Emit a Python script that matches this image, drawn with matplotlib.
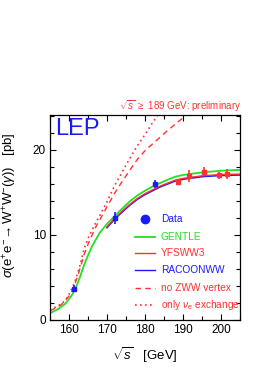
import matplotlib
matplotlib.use("Agg")
import matplotlib.pyplot as plt
from matplotlib.ticker import MultipleLocator

plt.rcParams['font.family'] = ['Liberation Sans', 'DejaVu Sans']
plt.rcParams['mathtext.fontset'] = 'custom'
plt.rcParams['mathtext.rm'] = 'Liberation Sans'
plt.rcParams['mathtext.it'] = 'Liberation Sans:italic'
plt.rcParams['mathtext.sf'] = 'Liberation Sans'

RED = '#ff3030'
GREEN = '#22e022'
BLUE = '#1a1aff'

# Measurements
data_e = [161.3, 172.1, 182.7]
data_s = [3.7, 12.0, 15.95]
data_err = [0.45, 0.75, 0.45]
prel_e = [188.6, 191.6, 195.5, 199.5, 201.6]
prel_s = [16.2, 16.9, 17.45, 17.0, 17.2]
prel_err = [0.3, 0.7, 0.5, 0.45, 0.6]

# GENTLE
gentle_e = [155, 157, 159, 160, 161, 162, 163, 164, 165, 166, 168, 170, 172, 174,
            176, 178, 180, 182, 184, 186, 188, 190, 195, 200, 205]
gentle_s = [0.8, 1.25, 1.9, 2.45, 3.1, 4.0, 5.2, 6.5, 7.6, 8.6, 10.2, 11.3, 12.2, 13.1,
            13.95, 14.65, 15.2, 15.7, 16.1, 16.5, 16.85, 17.05, 17.35, 17.55, 17.65]
# YFSWW3
yfs_e = [170, 172, 174, 176, 178, 180, 182, 184, 186, 188, 190, 195, 200, 205]
yfs_s = [10.95, 11.95, 12.8, 13.6, 14.3, 14.85, 15.3, 15.75, 16.1, 16.45, 16.65, 16.95, 17.1, 17.15]
# RACOONWW
rac_e = [170, 172, 174, 176, 178, 180, 182, 184, 186, 188, 190, 195, 200, 205]
rac_s = [10.85, 11.85, 12.7, 13.5, 14.2, 14.75, 15.2, 15.65, 16.0, 16.35, 16.55, 16.85, 17.0, 17.05]
# no ZWW vertex
nozww_e = [155, 156, 158, 160, 161, 162, 163, 164, 165, 166, 167, 168, 170, 172, 174,
           176, 178, 180, 183, 186, 189, 192]
nozww_s = [1.1, 1.3, 1.8, 2.8, 3.6, 4.8, 6.2, 7.7, 8.9, 9.9, 10.9, 11.7, 13.3, 14.9, 16.3,
           17.6, 18.9, 19.9, 21.1, 22.3, 23.4, 24.5]
# only nu_e exchange
nue_e = [155, 156, 158, 159, 160, 161, 162, 163, 164, 165, 166, 167, 168, 170, 172,
         174, 176, 178, 180, 182, 184]
nue_s = [1.15, 1.4, 1.9, 2.3, 3.0, 3.9, 5.1, 6.6, 8.4, 9.6, 10.5, 11.4, 12.2, 13.9, 15.8,
         17.4, 19.0, 20.5, 21.8, 23.2, 24.5]

fig = plt.figure(figsize=(2.73, 3.82), dpi=100)
ax = fig.add_axes([50/273, 1-320/382, 190/273, 205/382])

ax.plot(nue_e, nue_s, color=RED, lw=1.2, ls=(0, (1, 2)))
ax.plot(nozww_e, nozww_s, color=RED, lw=1.0, ls=(0, (4, 3)))
ax.plot(gentle_e, gentle_s, color=GREEN, lw=1.3)
ax.plot(rac_e, rac_s, color=BLUE, lw=1.2)
ax.plot(yfs_e, yfs_s, color=RED, lw=1.0)

ax.errorbar(data_e, data_s, yerr=data_err, fmt='s', ms=2.5, color=BLUE, elinewidth=1.2, capsize=0)
ax.errorbar(prel_e, prel_s, yerr=prel_err, fmt='s', ms=2.5, color=RED, elinewidth=1.2, capsize=0)

ax.set_xlim(155, 205)
ax.set_ylim(0, 24.1)
ax.xaxis.set_major_locator(MultipleLocator(10))
ax.xaxis.set_minor_locator(MultipleLocator(5))
ax.yaxis.set_major_locator(MultipleLocator(10))
ax.yaxis.set_minor_locator(MultipleLocator(2))
ax.tick_params(which='both', direction='in', top=True, right=True, labelsize=8.5, width=0.8)
ax.tick_params(which='major', length=4.5, pad=3)
ax.tick_params(which='minor', length=3)
for sp in ax.spines.values():
    sp.set_linewidth(0.9)

ax.text(0.025, 0.985, 'LEP', transform=ax.transAxes, color=BLUE, fontsize=17,
        ha='left', va='top')

# legend drawn manually
rows = [0.493, 0.405, 0.327, 0.244, 0.156, 0.073]
x0, x1, xt = 0.447, 0.553, 0.584
ax.plot([0.5], [rows[0]], 'o', color=BLUE, ms=6, transform=ax.transAxes)
ax.text(xt, rows[0], 'Data', color=BLUE, fontsize=7.3, va='center', transform=ax.transAxes)
specs = [('GENTLE', GREEN, '-', 1.3), ('YFSWW3', RED, '-', 1.0), ('RACOONWW', BLUE, '-', 1.0),
         ('no ZWW vertex', RED, (0, (4, 3)), 1.0), (r'only $\nu_{\rm e}$ exchange', RED, (0, (1, 2)), 1.2)]
for r, (lab, c, ls, lw) in zip(rows[1:], specs):
    ax.plot([x0, x1], [r, r], color=c, ls=ls, lw=lw, transform=ax.transAxes)
    ax.text(xt, r, lab, color=c, fontsize=7.3, va='center', transform=ax.transAxes)

fig.text(241/273, 1-110.5/382, r'$\sqrt{s}$ $\geq$ 189 GeV: preliminary', color=RED,
         fontsize=7.0, ha='right', va='baseline')
fig.text(145/273, 1-355/382, r'$\sqrt{s}$   [GeV]', fontsize=9.5, ha='center', va='center')
fig.text(10/273, 1-205/382, r'$\sigma(\mathrm{e^{+}e^{-}\!\rightarrow W^{+}W^{-}}(\gamma))$   [pb]',
         fontsize=9.5, rotation=90, ha='center', va='center')

fig.savefig('out.png', dpi=100)
